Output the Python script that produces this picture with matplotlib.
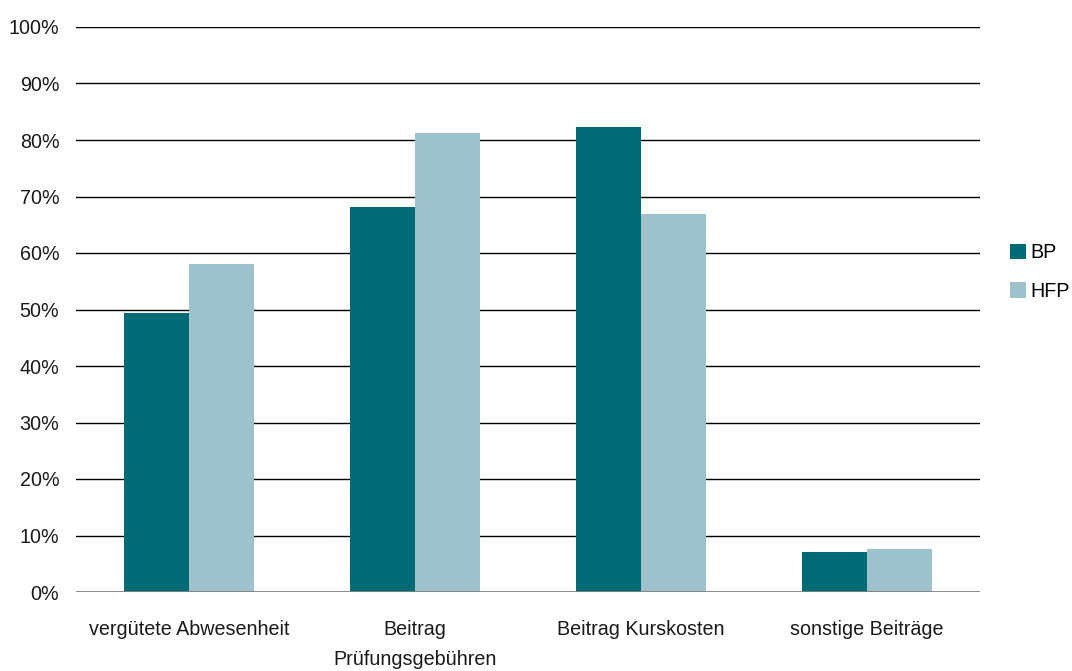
import matplotlib
matplotlib.use("Agg")
import matplotlib.pyplot as plt
import numpy as np

# data (percent)
categories = ["vergütete Abwesenheit", "Beitrag\nPrüfungsgebühren", "Beitrag Kurskosten", "sonstige Beiträge"]
series_names = ["BP", "HFP"]
bp_values = [49.4, 68.1, 82.3, 7.1]
hfp_values = [58.0, 81.2, 66.9, 7.6]
y_ticks = list(range(0, 101, 10))

BP_COLOR = "#006a75"
HFP_COLOR = "#9dc2cb"

plt.rcParams["font.family"] = ["Liberation Sans", "DejaVu Sans"]
plt.rcParams["font.size"] = 14.2

fig = plt.figure(figsize=(10.72, 6.71), dpi=100)
ax = fig.add_axes([76 / 1072, 1 - 592 / 671, (980 - 76) / 1072, (592 - 27) / 671])

x = np.arange(len(categories))
width = 65 / 226
ax.bar(x - width / 2, bp_values, width, color=BP_COLOR, label=series_names[0], zorder=3)
ax.bar(x + width / 2, hfp_values, width, color=HFP_COLOR, label=series_names[1], zorder=3)

ax.set_xlim(-0.5, len(categories) - 0.5)
ax.set_ylim(0, 100)
ax.set_yticks(y_ticks)
ax.set_yticklabels([f"{t}%" for t in y_ticks])
for t in y_ticks[1:]:
    ax.axhline(t, color="black", linewidth=1.0, zorder=1)
ax.axhline(0, color="#808080", linewidth=2.0, zorder=4)

ax.set_xticks(x)
ax.set_xticklabels(categories, linespacing=1.75)
ax.tick_params(axis="both", length=0, colors="#1a1a1a")
ax.tick_params(axis="y", pad=12)
ax.tick_params(axis="x", pad=20)
for spine in ax.spines.values():
    spine.set_visible(False)

fig.legend(
    loc="center left",
    bbox_to_anchor=(1002 / 1072, 1 - 272 / 671),
    frameon=False,
    handlelength=0.8,
    handleheight=0.8,
    handletextpad=0.25,
    labelspacing=1.0,
    borderaxespad=0,
)

fig.savefig("out.png", dpi=100)
